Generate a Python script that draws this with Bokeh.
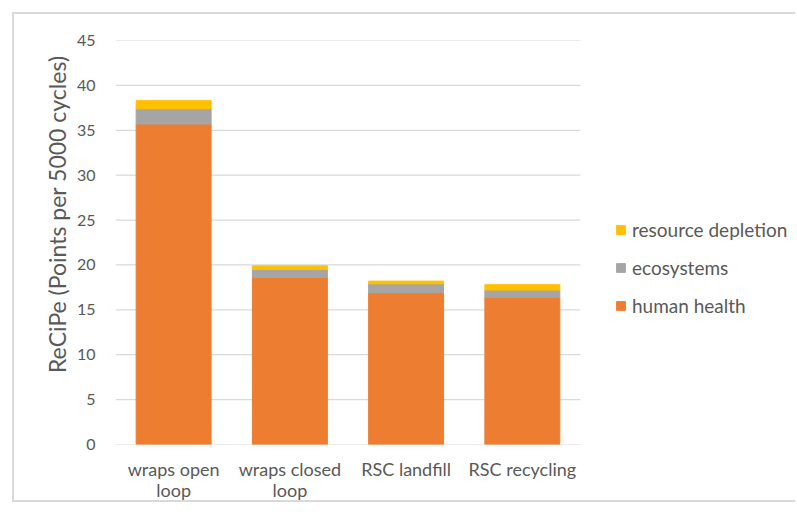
from bokeh.plotting import figure
from bokeh.models import (ColumnDataSource, Range1d, Legend, LegendItem,
                          FixedTicker, LinearAxis, Title)
from bokeh.embed import file_html
from bokeh.resources import INLINE

categories = ["wraps open loop", "wraps closed loop", "RSC landfill", "RSC recycling"]
label_line1 = ["wraps open", "wraps closed", "RSC landfill", "RSC recycling"]
label_line2 = ["loop", "loop", "", ""]
human_health = [35.7, 18.6, 16.9, 16.4]
ecosystems = [1.7, 0.9, 1.0, 0.8]
resource_depletion = [0.9, 0.4, 0.3, 0.6]
series_names = ["human health", "ecosystems", "resource depletion"]
series_colors = ["#ED7D31", "#A5A5A5", "#FFC000"]
y_ticks = [0, 5, 10, 15, 20, 25, 30, 35, 40, 45]

FONT = "Lato"
TXT = "#595959"
GRID = "#d9d9d9"

n = len(categories)
x_pos = [i + 0.5 for i in range(n)]          # category slot centres
X_END = 5.867                                 # extra room on the right for the legend

source = ColumnDataSource(dict(x=x_pos, cat=categories, hh=human_health,
                               eco=ecosystems, res=resource_depletion))
grid_src = ColumnDataSource(dict(y=y_ticks, x0=[0] * len(y_ticks),
                                 x1=[n] * len(y_ticks)))

p = figure(x_range=Range1d(0, X_END), y_range=Range1d(0, 45),
           width=783, height=490,
           output_backend="svg", toolbar_location=None,
           min_border_left=101, min_border_top=26,
           min_border_bottom=60, min_border_right=0)
p.margin = (12, 0, 0, 12)
p.styles = {"border-left": f"2px solid {GRID}",
            "border-top": f"2px solid {GRID}",
            "border-bottom": f"2px solid {GRID}"}

# horizontal gridlines (only across the category area)
p.segment(x0="x0", x1="x1", y0="y", y1="y", source=grid_src,
          line_color=GRID, line_width=1.2)

renderers = p.vbar_stack(["hh", "eco", "res"], x="x", width=0.645,
                         color=series_colors, source=source)

p.outline_line_color = None
p.xgrid.grid_line_color = None
p.ygrid.grid_line_color = None

p.yaxis.ticker = FixedTicker(ticks=y_ticks)
p.yaxis.axis_line_color = None
p.yaxis.major_tick_line_color = None
p.yaxis.minor_tick_line_color = None
p.yaxis.major_label_text_font = FONT
p.yaxis.major_label_text_font_size = "16px"
p.yaxis.major_label_text_color = TXT
p.yaxis.major_label_standoff = 14

ytitle = Title(text="ReCiPe (Points per 5000 cycles)", align="right",
               offset=15, standoff=5, text_font=FONT, text_font_size="23px",
               text_font_style="normal", text_color=TXT)
p.add_layout(ytitle, "left")

p.xaxis.ticker = FixedTicker(ticks=x_pos)
p.xaxis.axis_line_color = None
p.xaxis.major_tick_line_color = None
p.xaxis.minor_tick_line_color = None
p.xaxis.major_label_text_font = FONT
p.xaxis.major_label_text_font_size = "18px"
p.xaxis.major_label_text_color = TXT
p.xaxis.major_label_standoff = 7
p.xaxis.major_label_overrides = dict(zip(x_pos, label_line1))

xaxis2 = LinearAxis(ticker=FixedTicker(ticks=x_pos),
                    axis_line_color=None, major_tick_line_color=None,
                    minor_tick_line_color=None, major_label_standoff=-10,
                    major_label_text_font=FONT,
                    major_label_text_font_size="18px",
                    major_label_text_color=TXT,
                    major_label_overrides=dict(zip(x_pos, label_line2)))
p.add_layout(xaxis2, "below")

items = [LegendItem(label=s, renderers=[r])
         for s, r in zip(series_names, renderers)][::-1]
legend = Legend(items=items, location=(500, 127))
legend.border_line_color = None
legend.background_fill_alpha = 0
legend.padding = 0
legend.margin = 0
legend.spacing = 15
legend.glyph_width = 11
legend.glyph_height = 11
legend.label_height = 22
legend.label_standoff = 6
legend.label_text_font = FONT
legend.label_text_font_size = "19px"
legend.label_text_color = TXT
p.add_layout(legend)

open("out.html", "w").write(file_html(p, INLINE))
